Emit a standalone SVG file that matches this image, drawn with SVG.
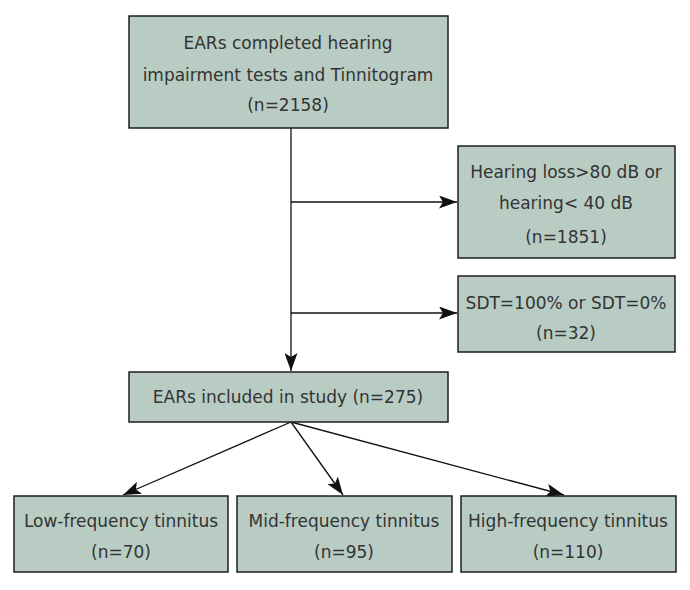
<svg xmlns="http://www.w3.org/2000/svg" width="690" height="590" viewBox="0 0 690 590">
<style>
.box{fill:#b8ccc4;stroke:#1e1e1e;stroke-width:1.5}
.t{font-family:"DejaVu Sans","Liberation Sans",sans-serif;font-size:17px;fill:#333;text-anchor:middle}
.c{stroke:#111;stroke-width:1.3;fill:none}
</style>
<defs>
<marker id="ah" viewBox="0 0 18 13" refX="18" refY="6.5" markerWidth="18" markerHeight="13" markerUnits="userSpaceOnUse" orient="auto">
<path d="M0,0 L18,6.5 L0,13 L4,6.5 Z" fill="#111"/>
</marker>
</defs>
<rect width="690" height="590" fill="#fff"/>
<g id="connectors">
<line class="c" x1="291" y1="128" x2="291" y2="371" marker-end="url(#ah)"/>
<line class="c" x1="291" y1="202" x2="457" y2="202" marker-end="url(#ah)"/>
<line class="c" x1="291" y1="313" x2="457" y2="313" marker-end="url(#ah)"/>
<line class="c" x1="291" y1="422" x2="123" y2="495" marker-end="url(#ah)"/>
<line class="c" x1="291" y1="422" x2="343" y2="495" marker-end="url(#ah)"/>
<line class="c" x1="291" y1="422" x2="564" y2="495" marker-end="url(#ah)"/>
</g>
<g id="n1">
<rect class="box" x="129" y="16" width="319" height="112"/>
<text class="t" x="288" y="49">EARs completed hearing</text>
<text class="t" x="288" y="81">impairment tests and Tinnitogram</text>
<text class="t" x="288" y="111">(n=2158)</text>
</g>
<g id="n2">
<rect class="box" x="458" y="146" width="217" height="112"/>
<text class="t" x="566" y="178">Hearing loss&gt;80 dB or</text>
<text class="t" x="566" y="209">hearing&lt; 40 dB</text>
<text class="t" x="566" y="243">(n=1851)</text>
</g>
<g id="n3">
<rect class="box" x="458" y="276" width="217" height="76"/>
<text class="t" x="566" y="309">SDT=100% or SDT=0%</text>
<text class="t" x="566" y="339">(n=32)</text>
</g>
<g id="n4">
<rect class="box" x="129" y="372" width="319" height="50"/>
<text class="t" x="288" y="403">EARs included in study (n=275)</text>
</g>
<g id="n5">
<rect class="box" x="14" y="496" width="214" height="76"/>
<text class="t" x="121" y="527">Low-frequency tinnitus</text>
<text class="t" x="121" y="558">(n=70)</text>
</g>
<g id="n6">
<rect class="box" x="237" y="496" width="215" height="76"/>
<text class="t" x="344" y="527">Mid-frequency tinnitus</text>
<text class="t" x="344" y="558">(n=95)</text>
</g>
<g id="n7">
<rect class="box" x="461" y="496" width="215" height="76"/>
<text class="t" x="568" y="527">High-frequency tinnitus</text>
<text class="t" x="568" y="558">(n=110)</text>
</g>
</svg>
